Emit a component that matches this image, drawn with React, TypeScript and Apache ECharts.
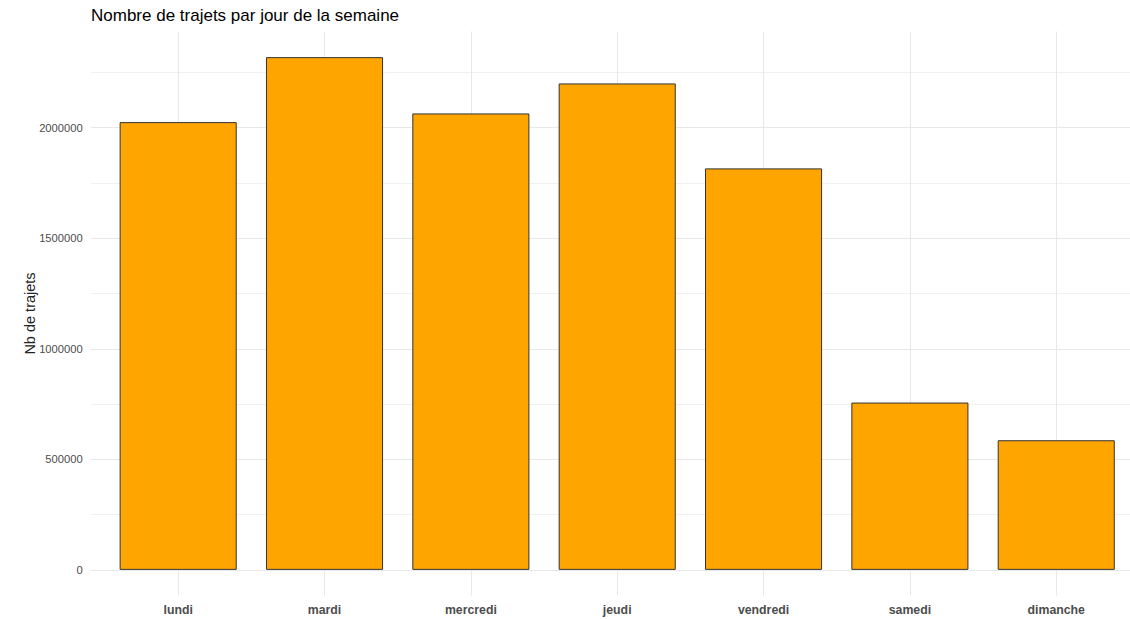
import React, { useEffect, useRef } from "react";
import * as echarts from "echarts";

const days = ["lundi", "mardi", "mercredi", "jeudi", "vendredi", "samedi", "dimanche"];
const trips = [2025300, 2319200, 2064600, 2200200, 1816000, 756800, 586300];
const yLabelValues = [0, 500000, 1000000, 1500000, 2000000];
const majorGrid = [0, 500000, 1000000, 1500000, 2000000];
const minorGrid = [250000, 750000, 1250000, 1750000, 2250000];

const FONT = "Liberation Sans, Arial, sans-serif";

export default function App() {
  const ref = useRef<HTMLDivElement>(null);
  useEffect(() => {
    if (!ref.current) return;
    const chart = echarts.init(ref.current, null, { renderer: "svg" });
    const maxV = Math.max(...trips);
    const yMin = -0.05 * maxV;
    const yMax = 1.05 * maxV;
    const gridTop = 31.5;
    const gridBottom = 23.5;
    chart.setOption({
      animation: false,
      backgroundColor: "#ffffff",
      title: {
        text: "Nombre de trajets par jour de la semaine",
        left: 86,
        top: 2,
        textStyle: { fontFamily: FONT, fontSize: 17, fontWeight: "normal", color: "#000000" },
      },
      grid: [
        { left: 105, right: 0.6, top: gridTop, bottom: gridBottom },
        { left: 91, right: 0, top: gridTop, bottom: gridBottom },
      ],
      xAxis: [
        {
          type: "category",
          gridIndex: 0,
          data: days,
          axisLine: { show: false },
          axisTick: { show: false },
          splitLine: { show: false },
          axisLabel: {
            fontFamily: FONT,
            fontSize: 12.3,
            fontWeight: "bold",
            color: "#4d4d4d",
            margin: 8,
          },
        },
        { type: "value", gridIndex: 1, show: false, min: 0, max: 1 },
      ],
      yAxis: [
        {
          type: "value",
          gridIndex: 0,
          min: yMin,
          max: yMax,
          name: "Nb de trajets",
          nameLocation: "middle",
          nameGap: 68,
          nameMoveOverlap: false,
          nameTextStyle: { fontFamily: FONT, fontSize: 14.5, color: "#222222" },
          axisLine: { show: false },
          axisTick: { show: false },
          splitLine: { show: false },
          axisLabel: {
            customValues: yLabelValues,
            formatter: (v: number) => String(Math.round(v)),
            fontFamily: FONT,
            fontSize: 11.2,
            color: "#4d4d4d",
            margin: 22.3,
          },
        },
        { type: "value", gridIndex: 1, show: false, min: yMin, max: yMax },
      ],
      series: [
        {
          type: "line",
          xAxisIndex: 1,
          yAxisIndex: 1,
          data: [],
          z: 0,
          silent: true,
          markLine: {
            silent: true,
            symbol: "none",
            z: 0,
            label: { show: false },
            emphasis: { disabled: true },
            lineStyle: { color: "#f0f0f0", width: 1, type: "solid" },
            data: minorGrid.map((v) => ({ yAxis: v })),
          },
        },
        {
          type: "line",
          xAxisIndex: 1,
          yAxisIndex: 1,
          data: [],
          z: 0,
          silent: true,
          markLine: {
            silent: true,
            symbol: "none",
            z: 0,
            label: { show: false },
            emphasis: { disabled: true },
            lineStyle: { color: "#e8e8e8", width: 1, type: "solid" },
            data: majorGrid.map((v) => ({ yAxis: v })),
          },
        },
        {
          type: "line",
          xAxisIndex: 0,
          yAxisIndex: 0,
          data: [],
          z: 0,
          silent: true,
          markLine: {
            silent: true,
            symbol: "none",
            z: 0,
            label: { show: false },
            emphasis: { disabled: true },
            lineStyle: { color: "#e8e8e8", width: 1, type: "solid" },
            data: days.map((d) => ({ xAxis: d })),
          },
        },
        {
          type: "bar",
          xAxisIndex: 0,
          yAxisIndex: 0,
          data: trips,
          barWidth: "80%",
          z: 3,
          itemStyle: { color: "#FFA500", borderColor: "#333333", borderWidth: 1 },
        },
      ],
    });
    return () => chart.dispose();
  }, []);
  return <div ref={ref} style={{ width: 1130, height: 619, position: "absolute", left: 0, top: 0 }} />;
}
